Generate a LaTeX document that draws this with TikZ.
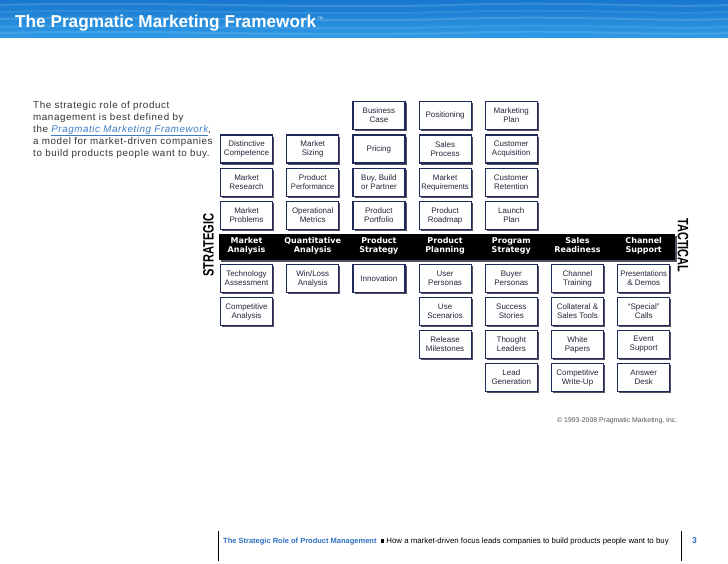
\documentclass[tikz,border=0pt]{standalone}
\usepackage{fontspec}
\usepackage{graphicx}
\setmainfont{Liberation Sans}
\newfontfamily\barfont{DejaVu Sans}
\newfontfamily\bodyfont[LetterSpace=6]{Liberation Sans}
\usetikzlibrary{shadows}
\definecolor{boxline}{HTML}{1E2A5A}
\definecolor{boxtext}{HTML}{222838}
\definecolor{shadowc}{HTML}{3A2E45}
\definecolor{bannertop}{HTML}{1677CC}
\definecolor{bannerbot}{HTML}{2E9AE6}
\definecolor{bodytext}{HTML}{333333}
\definecolor{linkblue}{HTML}{3B7CC4}
\definecolor{footblue}{HTML}{2F6FC4}
\definecolor{copygray}{HTML}{555555}
\newcommand{\narrowword}[1]{\scalebox{0.95}[1]{#1}}
\tikzset{
  fwbox/.style={draw=boxline, line width=1.2pt, fill=white, minimum width=52pt,
    minimum height=28pt, inner sep=0.5pt, align=center, text=boxtext,
    font=\fontsize{8}{9}\selectfont,
    drop shadow={shadow xshift=1.6pt, shadow yshift=-1.6pt, fill=shadowc, opacity=0.85}},
  barlabel/.style={text=white, align=center, inner sep=0pt, anchor=north,
    font=\barfont\bfseries\fontsize{8}{9}\selectfont},
  bodyline/.style={anchor=base west, inner sep=0pt, text=bodytext,
    font=\bodyfont\fontsize{9.8}{12}\selectfont},
  sidelabel/.style={inner sep=0pt, text=black, font=\bfseries\fontsize{15}{15}\selectfont}
}
\begin{document}
\begin{tikzpicture}[x=1pt,y=-1pt]
\useasboundingbox (0,0) rectangle (728,563);
\fill[white] (0,0) rectangle (728,563);
% banner
\shade[top color=bannertop, bottom color=bannerbot] (0,0) rectangle (728,37);
\foreach \yy/\op in {5/0.14, 12/0.09, 19/0.14, 27/0.09, 33/0.12}{
  \draw[white, opacity=\op, line width=2pt] (0,\yy) .. controls (150,\yy-4) and (300,\yy+4) .. (450,\yy) .. controls (580,\yy-4) and (650,\yy+3) .. (728,\yy);
}
\node[anchor=base west, inner sep=0pt, text=white, font=\bfseries\fontsize{17.2}{17}\selectfont] (title) at (15,27) {The Pragmatic Marketing Framework};
\node[anchor=base west, inner sep=0pt, text=white, font=\fontsize{3.5}{4}\selectfont] (tm) at ([xshift=1pt,yshift=8pt]title.base east) {TM};
% intro text
\node[bodyline] (l1) at (33,108) {The strategic role of product};
\node[bodyline] (l2) at (33,120) {management is best defined by};
\node[bodyline] (l3) at (33,132) {the {\color{linkblue}\itshape\underline{Pragmatic Marketing Framework}},};
\node[bodyline] (l4) at (33,144) {a model for market-driven companies};
\node[bodyline] (l5) at (33,156) {to build products people want to buy.};
% bar
\node[fill=black, minimum width=456pt, minimum height=26pt, inner sep=0pt,
  drop shadow={shadow xshift=1.6pt, shadow yshift=-1.6pt, fill=shadowc, opacity=0.85}] (bar) at (447,247) {};
\node[barlabel] (h1) at (246.5,237.5) {Market\\Analysis};
\node[barlabel] (h2) at (312.7,237.5) {Quantitative\\Analysis};
\node[barlabel] (h3) at (378.9,237.5) {Product\\Strategy};
\node[barlabel] (h4) at (445.1,237.5) {Product\\Planning};
\node[barlabel] (h5) at (511.3,237.5) {Program\\Strategy};
\node[barlabel] (h6) at (577.5,237.5) {Sales\\Readiness};
\node[barlabel] (h7) at (643.7,237.5) {Channel\\Support};
\node[sidelabel, rotate=90] (strat) at (208.5,245) {\scalebox{0.74}[1]{STRATEGIC}};
\node[sidelabel, rotate=-90] (tact) at (683,245.5) {\scalebox{0.73}[1]{TACTICAL}};
% column 1
\node[fwbox] (c1a2) at (246.5,149) {Distinctive\\Competence};
\node[fwbox] (c1a3) at (246.5,182.5) {Market\\Research};
\node[fwbox] (c1a4) at (246.5,215.5) {Market\\Problems};
\node[fwbox] (c1b1) at (246.5,278.5) {Technology\\Assessment};
\node[fwbox] (c1b2) at (246.5,311.5) {Competitive\\Analysis};
% column 2
\node[fwbox] (c2a2) at (312.7,149) {Market\\Sizing};
\node[fwbox] (c2a3) at (312.7,182.5) {Product\\\narrowword{Performance}};
\node[fwbox] (c2a4) at (312.7,215.5) {Operational\\Metrics};
\node[fwbox] (c2b1) at (312.7,278.5) {Win/Loss\\Analysis};
% column 3
\node[fwbox] (c3a1) at (378.9,115.5) {Business\\Case};
\node[fwbox] (c3a2) at (378.9,149) {Pricing};
\node[fwbox] (c3a3) at (378.9,182.5) {Buy, Build\\or Partner};
\node[fwbox] (c3a4) at (378.9,215.5) {Product\\Portfolio};
\node[fwbox] (c3b1) at (378.9,278.5) {Innovation};
% column 4
\node[fwbox] (c4a1) at (445.1,115.5) {Positioning};
\node[fwbox] (c4a2) at (445.1,149) {Sales\\Process};
\node[fwbox] (c4a3) at (445.1,182.5) {Market\\\narrowword{Requirements}};
\node[fwbox] (c4a4) at (445.1,215.5) {Product\\Roadmap};
\node[fwbox] (c4b1) at (445.1,278.5) {User\\Personas};
\node[fwbox] (c4b2) at (445.1,311.5) {Use\\Scenarios};
\node[fwbox] (c4b3) at (445.1,344.5) {Release\\Milestones};
% column 5
\node[fwbox] (c5a1) at (511.3,115.5) {Marketing\\Plan};
\node[fwbox] (c5a2) at (511.3,149) {Customer\\Acquisition};
\node[fwbox] (c5a3) at (511.3,182.5) {Customer\\Retention};
\node[fwbox] (c5a4) at (511.3,215.5) {Launch\\Plan};
\node[fwbox] (c5b1) at (511.3,278.5) {Buyer\\Personas};
\node[fwbox] (c5b2) at (511.3,311.5) {Success\\Stories};
\node[fwbox] (c5b3) at (511.3,344.5) {Thought\\Leaders};
\node[fwbox] (c5b4) at (511.3,377.5) {Lead\\Generation};
% column 6
\node[fwbox] (c6b1) at (577.5,278.5) {Channel\\Training};
\node[fwbox] (c6b2) at (577.5,311.5) {Collateral \&\\Sales Tools};
\node[fwbox] (c6b3) at (577.5,344.5) {White\\Papers};
\node[fwbox] (c6b4) at (577.5,377.5) {Competitive\\Write-Up};
% column 7
\node[fwbox] (c7b1) at (643.7,278.5) {\narrowword{Presentations}\\\& Demos};
\node[fwbox] (c7b2) at (643.7,311.5) {``Special''\\Calls};
\node[fwbox] (c7b3) at (643.7,344.5) {Event\\Support};
\node[fwbox] (c7b4) at (643.7,377.5) {Answer\\Desk};
% copyright
\node[anchor=base west, inner sep=0pt, text=copygray, font=\fontsize{6.9}{7}\selectfont] (copy) at (557,422) {\textcopyright{} 1993-2008 Pragmatic Marketing, Inc.};
% footer
\coordinate (fl1) at (218,531);
\coordinate (fl2) at (218,561);
\coordinate (fr1) at (681,531);
\coordinate (fr2) at (681,561);
\draw[line width=0.8pt] (fl1) -- (fl2);
\draw[line width=0.8pt] (fr1) -- (fr2);
\node[anchor=base west, inner sep=0pt, font=\fontsize{7.5}{9}\selectfont] (foot) at (223,543) {{\color{footblue}\bfseries The Strategic Role of Product Management}\ \ \raisebox{0.3pt}{\rule{3.6pt}{3.6pt}}\ {\fontsize{7.85}{9}\selectfont How a market-driven focus leads companies to build products people want to buy}};
\node[anchor=base west, inner sep=0pt, text=footblue, font=\bfseries\fontsize{8.5}{9}\selectfont] (pg) at (692,543) {3};
\end{tikzpicture}
\end{document}
